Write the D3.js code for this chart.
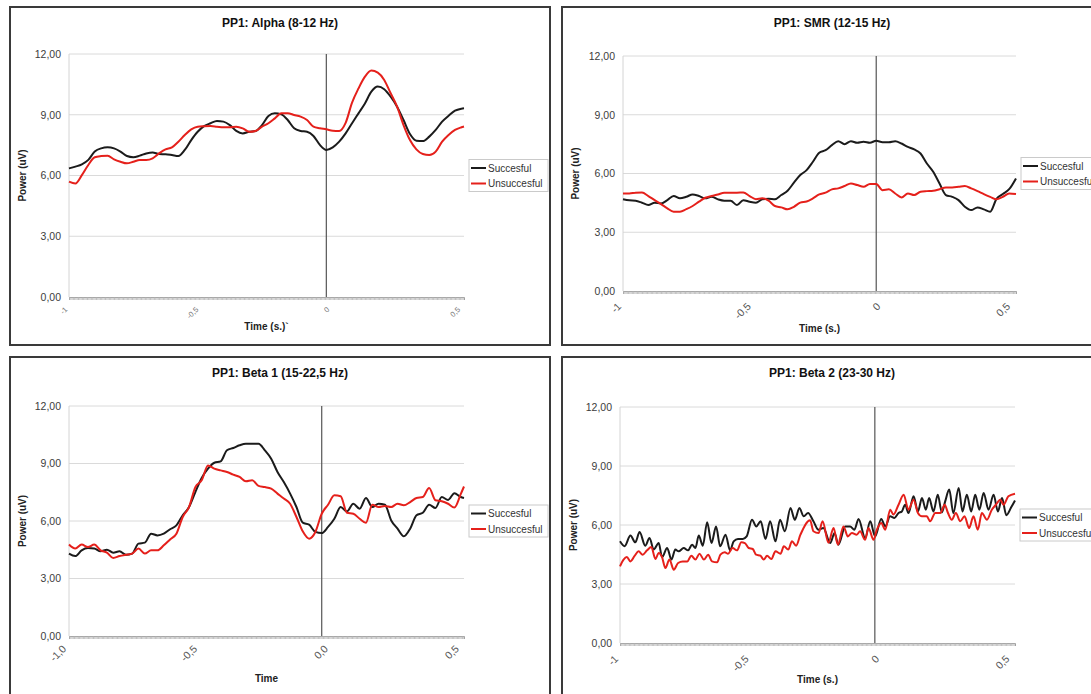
<!DOCTYPE html>
<html>
<head>
<meta charset="utf-8">
<script src="https://cdn.jsdelivr.net/npm/d3@7"></script>
<style>
body { margin: 0; background: #fff; }
svg { display: block; font-family: "Liberation Sans", Arial, sans-serif; }
</style>
</head>
<body>
<svg id="chart" width="1091" height="694"></svg>
<script>
// ---- data ----
const seriesNames = ["Succesful", "Unsuccesful"];
const yTicks = [0, 3, 6, 9, 12];
const xTicks = [-1, -0.5, 0, 0.5];
const xTickText = ["-1", "-0,5", "0", "0,5"];
const xTickTextBeta1 = ["-1,0", "-0,5", "0,0", "0,5"];

// sample times (s) used for the smooth panels
const gridTime = [-1, -0.975, -0.95, -0.925, -0.9, -0.875, -0.85, -0.825, -0.8, -0.775,
  -0.75, -0.725, -0.7, -0.675, -0.65, -0.625, -0.6, -0.575, -0.55, -0.525,
  -0.5, -0.475, -0.45, -0.425, -0.4, -0.375, -0.35, -0.325, -0.3, -0.275,
  -0.25, -0.225, -0.2, -0.175, -0.15, -0.125, -0.1, -0.075, -0.05, -0.025,
  0, 0.025, 0.05, 0.075, 0.1, 0.125, 0.15, 0.175, 0.2, 0.225,
  0.25, 0.275, 0.3, 0.325, 0.35, 0.375, 0.4, 0.425, 0.45, 0.475,
  0.5, 0.525];

const alphaTime = gridTime.concat([0.535]);
const alphaSucc = [6.35, 6.44, 6.55, 6.77, 7.18, 7.34, 7.39, 7.34, 7.18, 6.96,
  6.90, 6.98, 7.09, 7.14, 7.06, 7.05, 7.01, 6.96, 7.26, 7.75,
  8.16, 8.44, 8.58, 8.69, 8.66, 8.49, 8.20, 8.08, 8.16, 8.20,
  8.49, 8.94, 9.07, 9.02, 8.74, 8.33, 8.20, 8.16, 7.95, 7.51,
  7.26, 7.39, 7.67, 8.08, 8.58, 9.07, 9.56, 10.14, 10.39, 10.26,
  9.89, 9.40, 8.74, 8.05, 7.72, 7.70, 7.92, 8.25, 8.66, 8.95,
  9.20, 9.30, 9.32];
const alphaUnsucc = [5.70, 5.61, 6.02, 6.52, 6.90, 6.96, 6.98, 6.80, 6.68, 6.60,
  6.68, 6.77, 6.77, 6.85, 7.09, 7.29, 7.39, 7.67, 8.00, 8.28,
  8.41, 8.43, 8.44, 8.41, 8.38, 8.38, 8.41, 8.33, 8.16, 8.20,
  8.41, 8.58, 8.82, 9.07, 9.07, 8.99, 8.91, 8.74, 8.41, 8.33,
  8.28, 8.21, 8.20, 8.60, 9.60, 10.30, 10.88, 11.18, 11.08, 10.72,
  10.06, 9.40, 8.49, 7.75, 7.29, 7.06, 7.01, 7.18, 7.67, 8.00,
  8.25, 8.38, 8.42];

const smrTime = gridTime.concat([0.552]);
const smrSucc = [4.69, 4.63, 4.61, 4.51, 4.39, 4.51, 4.47, 4.64, 4.85, 4.73,
  4.81, 4.93, 4.85, 4.73, 4.81, 4.68, 4.61, 4.61, 4.39, 4.64,
  4.56, 4.51, 4.68, 4.71, 4.69, 4.90, 5.12, 5.53, 5.92, 6.17,
  6.60, 7.06, 7.19, 7.45, 7.65, 7.50, 7.65, 7.57, 7.62, 7.57,
  7.67, 7.60, 7.60, 7.65, 7.53, 7.36, 7.23, 7.02, 6.51, 6.09,
  5.49, 4.90, 4.81, 4.64, 4.30, 4.13, 4.27, 4.17, 4.05, 4.70,
  4.95, 5.20, 5.75];
const smrUnsucc = [4.98, 4.98, 5.02, 5.03, 4.85, 4.64, 4.44, 4.22, 4.05, 4.05,
  4.18, 4.34, 4.56, 4.76, 4.85, 4.93, 5.02, 5.02, 5.02, 5.03,
  4.85, 4.69, 4.73, 4.61, 4.34, 4.27, 4.17, 4.30, 4.51, 4.57,
  4.73, 4.93, 5.02, 5.19, 5.24, 5.36, 5.49, 5.41, 5.32, 5.46,
  5.46, 5.15, 5.19, 4.98, 4.78, 4.98, 4.90, 5.07, 5.10, 5.12,
  5.20, 5.29, 5.29, 5.32, 5.36, 5.24, 5.10, 4.95, 4.81, 4.68,
  4.81, 4.98, 4.95];

const beta1Time = gridTime.concat([0.55, 0.563]);
const beta1Succ = [4.30, 4.17, 4.47, 4.59, 4.56, 4.42, 4.50, 4.35, 4.42, 4.24,
  4.30, 4.82, 4.87, 5.34, 5.25, 5.34, 5.57, 5.77, 6.30, 6.73,
  7.51, 8.24, 8.73, 9.04, 9.11, 9.69, 9.81, 9.95, 10.03, 10.03,
  10.03, 9.69, 9.25, 8.56, 8.03, 7.43, 6.73, 5.91, 5.81, 5.43,
  5.37, 5.69, 6.12, 6.73, 6.50, 6.90, 6.64, 7.20, 6.73, 6.90,
  6.85, 6.03, 5.60, 5.20, 5.60, 6.30, 6.43, 6.85, 6.68, 7.25,
  7.10, 7.45, 7.25, 7.20];
const beta1Unsucc = [4.77, 4.56, 4.77, 4.64, 4.77, 4.47, 4.35, 4.07, 4.17, 4.24,
  4.30, 4.56, 4.30, 4.47, 4.47, 4.73, 5.04, 5.34, 6.21, 6.73,
  7.77, 8.12, 8.90, 8.73, 8.64, 8.56, 8.42, 8.30, 8.07, 8.12,
  7.83, 7.77, 7.69, 7.43, 7.17, 6.90, 6.21, 5.46, 5.08, 5.43,
  6.38, 6.85, 7.34, 7.29, 6.43, 6.38, 6.12, 5.91, 6.85, 6.73,
  6.78, 6.73, 6.90, 6.82, 6.99, 7.20, 7.25, 7.72, 7.08, 7.03,
  6.90, 6.70, 7.40, 7.80];

// beta 2 oscillates fast: peaks and troughs read one by one
const beta2SuccTime = [-1.000, -0.982, -0.959, -0.940, -0.923, -0.901, -0.884, -0.868, -0.848, -0.835,
  -0.815, -0.798, -0.783, -0.770, -0.750, -0.733, -0.717, -0.704, -0.691, -0.675,
  -0.658, -0.641, -0.623, -0.607, -0.586, -0.568, -0.554, -0.537, -0.518, -0.503,
  -0.482, -0.465, -0.448, -0.429, -0.411, -0.390, -0.372, -0.353, -0.331, -0.314,
  -0.296, -0.279, -0.262,
  -0.241, -0.221, -0.202, -0.175, -0.158, -0.143, -0.116, -0.097, -0.080, -0.064,
  -0.038, -0.018, 0.001, 0.025, 0.041, 0.060, 0.077, 0.093, 0.106, 0.119,
  0.132, 0.152, 0.169, 0.185, 0.200, 0.213, 0.230, 0.247, 0.263, 0.276,
  0.292, 0.308, 0.329, 0.344, 0.361, 0.378, 0.394, 0.410, 0.427, 0.446,
  0.466, 0.483, 0.499, 0.516, 0.535, 0.550];
const beta2Succ = [5.17, 4.92, 5.46, 5.12, 5.64, 4.95, 5.34, 4.75, 5.08, 4.37,
  4.83, 4.24, 4.75, 4.66, 4.83, 4.71, 5.00, 4.83, 5.46, 4.95,
  6.14, 5.08, 5.93, 4.92, 5.51, 4.71, 5.17, 5.29, 5.29, 5.42,
  6.27, 5.93, 6.19, 5.29, 6.19, 5.17, 6.27, 5.68, 6.86, 6.27,
  6.86, 6.44, 6.61,
  6.19, 5.76, 5.85, 5.08, 5.59, 5.00, 5.93, 5.93, 5.76, 6.31,
  5.34, 6.19, 5.42, 6.31, 5.93, 6.44, 6.36, 6.61, 6.69, 7.03,
  6.61, 7.46, 6.69, 7.37, 6.78, 7.37, 6.69, 7.54, 6.64, 7.20,
  7.80, 6.61, 7.88, 6.69, 7.54, 6.69, 7.54, 6.78, 7.63, 6.78,
  7.54, 6.69, 7.37, 6.50, 6.90, 7.25];
const beta2UnsuccTime = [-1.0, -0.986, -0.973, -0.959, -0.942, -0.927, -0.911, -0.894, -0.877, -0.861,
  -0.848, -0.835, -0.822, -0.806, -0.789, -0.772, -0.754, -0.736, -0.720, -0.704,
  -0.688, -0.671, -0.654, -0.639, -0.619, -0.606, -0.589, -0.576, -0.558, -0.541,
  -0.524, -0.510, -0.495, -0.479, -0.466, -0.449, -0.436, -0.423, -0.406, -0.390,
  -0.370, -0.357, -0.340, -0.325, -0.309, -0.292,
  -0.254, -0.241, -0.221, -0.205, -0.182, -0.162, -0.145, -0.123, -0.106, -0.090,
  -0.071, -0.058, -0.038, -0.025, -0.005, 0.008, 0.025, 0.041, 0.060, 0.073,
  0.093, 0.113, 0.132, 0.152, 0.169, 0.185, 0.204, 0.217, 0.237, 0.257,
  0.274, 0.287, 0.302, 0.318, 0.335, 0.352, 0.370, 0.387, 0.404, 0.420,
  0.440, 0.459, 0.475, 0.492, 0.505, 0.524, 0.550];
const beta2Unsucc = [3.90, 4.24, 4.37, 4.15, 4.44, 4.66, 4.49, 4.71, 4.88, 4.27,
  4.58, 4.37, 3.81, 4.24, 3.73, 4.07, 4.15, 4.15, 4.44, 4.24,
  4.54, 4.24, 4.49, 4.15, 4.10, 4.49, 4.61, 4.54, 4.83, 4.71,
  5.12, 5.08, 4.83, 4.78, 4.49, 4.44, 4.24, 4.44, 4.27, 4.66,
  4.54, 4.92, 4.75, 5.17, 4.95, 5.51,
  6.24, 5.68, 5.59, 6.19, 5.10, 5.85, 5.00, 5.93, 5.42, 5.59,
  5.51, 5.68, 5.25, 5.85, 5.25, 5.76, 6.10, 5.76, 6.78, 6.53,
  7.03, 7.54, 6.78, 7.29, 6.61, 6.44, 6.44, 6.19, 6.61, 6.61,
  7.03, 6.61, 6.27, 6.61, 6.19, 6.44, 5.85, 6.44, 5.76, 6.61,
  6.27, 6.78, 7.03, 7.29, 7.03, 7.46, 7.59];

// ---- layout ----
const colors = ["#1b1b1b", "#e5201b"];
const boxW = 540, boxH = 338;

const panels = [
  { title: "PP1: Alpha (8-12 Hz)", xTitle: "Time (s.)`", tickText: xTickText,
    box: [10, 7], plot: { l: 69, r: 464, t: 54, b: 297 }, xMax: 0.535,
    tickFont: 7.5, tickColor: "#777", labelDx: [3.5, 4.5], labelDy: 13,
    yTitleX: 26, xTitleY: 330,
    series: [[alphaTime, alphaSucc], [alphaTime, alphaUnsucc]] },
  { title: "PP1: SMR (12-15 Hz)", xTitle: "Time (s.)", tickText: xTickText,
    box: [562, 7], plot: { l: 623, r: 1016, t: 56, b: 291 }, xMax: 0.552,
    tickFont: 10.5, tickColor: "#555", labelDx: [5, 6], labelDy: 16,
    yTitleX: 579, xTitleY: 332,
    series: [[smrTime, smrSucc], [smrTime, smrUnsucc]] },
  { title: "PP1: Beta 1 (15-22,5 Hz)", xTitle: "Time", tickText: xTickTextBeta1,
    box: [10, 357], plot: { l: 69, r: 464, t: 406, b: 636 }, xMax: 0.563,
    tickFont: 10.5, tickColor: "#555", labelDx: [7, 9], labelDy: 13.5,
    yTitleX: 26, xTitleY: 682,
    series: [[beta1Time, beta1Succ], [beta1Time, beta1Unsucc]] },
  { title: "PP1: Beta 2 (23-30 Hz)", xTitle: "Time (s.)", tickText: xTickText,
    box: [562, 357], plot: { l: 620, r: 1015, t: 407, b: 643 }, xMax: 0.55,
    tickFont: 10.5, tickColor: "#555", labelDx: [5, 6], labelDy: 16.5,
    yTitleX: 577, xTitleY: 683,
    series: [[beta2SuccTime, beta2Succ], [beta2UnsuccTime, beta2Unsucc]] }
];

const svg = d3.select("#chart");
const fmt = d => d3.format(".2f")(d).replace(".", ",");

function drawPanel(p) {
  const g = svg.append("g");
  const P = p.plot;

  g.append("rect")
    .attr("x", p.box[0]).attr("y", p.box[1])
    .attr("width", boxW).attr("height", boxH)
    .attr("fill", "#fff").attr("stroke", "#3a3a3a").attr("stroke-width", 2);

  const x = d3.scaleLinear().domain([-1, p.xMax]).range([P.l, P.r]);
  const y = d3.scaleLinear().domain([0, 12]).range([P.b, P.t]);

  // horizontal grid
  g.selectAll(".grid").data(yTicks.filter(v => v > 0)).enter().append("line")
    .attr("x1", P.l).attr("x2", P.r)
    .attr("y1", d => y(d)).attr("y2", d => y(d))
    .attr("stroke", "#dadada").attr("stroke-width", 1);

  g.append("line")
    .attr("x1", P.l).attr("x2", P.l).attr("y1", y(0)).attr("y2", y(12))
    .attr("stroke", "#d4d4d4");

  // y axis labels
  const yAxis = g.append("g").attr("transform", `translate(${P.l},0)`)
    .call(d3.axisLeft(y).tickValues(yTicks).tickFormat(fmt).tickSize(0).tickPadding(8));
  yAxis.select(".domain").remove();
  yAxis.selectAll("text").attr("font-size", 10.5).attr("fill", "#3c3c3c")
    .attr("font-family", "Liberation Sans, Arial, sans-serif");

  // dense minor ticks along the time axis
  const xAxis = g.append("g").attr("transform", `translate(0,${y(0)})`)
    .call(d3.axisBottom(x).tickValues(d3.range(-1, p.xMax, 0.005)).tickSize(3).tickFormat(""));
  xAxis.select(".domain").attr("stroke", "#a0a0a0");
  xAxis.selectAll(".tick line").attr("stroke", "#b0b0b0").attr("stroke-width", 0.8);

  // rotated tick labels
  g.selectAll(".xlab").data(xTicks).enter().append("text")
    .attr("transform", d => `translate(${x(d) + p.labelDx[0] + p.labelDx[1] * d},${y(0) + p.labelDy}) rotate(-45)`)
    .attr("text-anchor", "end")
    .attr("font-size", p.tickFont).attr("fill", p.tickColor)
    .text((d, i) => p.tickText[i]);

  // marker at t = 0
  g.append("line")
    .attr("x1", x(0)).attr("x2", x(0)).attr("y1", y(0)).attr("y2", y(12))
    .attr("stroke", "#555").attr("stroke-width", 1.2);

  const line = d3.line().curve(d3.curveMonotoneX)
    .x(d => x(d[0])).y(d => y(d[1]));

  p.series.forEach((s, i) => {
    const pts = s[0].map((t, k) => [t, s[1][k]]);
    g.append("path").datum(pts)
      .attr("d", line)
      .attr("fill", "none")
      .attr("stroke", colors[i])
      .attr("stroke-width", 2)
      .attr("stroke-linejoin", "round");
  });

  // titles
  g.append("text")
    .attr("x", p.box[0] + boxW / 2).attr("y", p.box[1] + 20)
    .attr("text-anchor", "middle").attr("font-size", 12).attr("font-weight", "bold")
    .attr("fill", "#111").text(p.title);

  g.append("text")
    .attr("x", (P.l + P.r) / 2).attr("y", p.xTitleY)
    .attr("text-anchor", "middle").attr("font-size", 10).attr("font-weight", "bold")
    .attr("fill", "#222").text(p.xTitle);

  g.append("text")
    .attr("transform", `translate(${p.yTitleX},${(P.t + P.b) / 2}) rotate(-90)`)
    .attr("text-anchor", "middle").attr("font-size", 10).attr("font-weight", "bold")
    .attr("fill", "#222").text("Power (uV)");

  // legend
  const lg = g.append("g")
    .attr("transform", `translate(${P.r + 5},${(P.t + P.b) / 2 - 16})`);
  lg.append("rect").attr("width", 79).attr("height", 32)
    .attr("fill", "#fff").attr("stroke", "#cacaca");
  seriesNames.forEach((name, i) => {
    const yy = 8.5 + i * 15.5;
    lg.append("line").attr("x1", 2).attr("x2", 17).attr("y1", yy).attr("y2", yy)
      .attr("stroke", colors[i]).attr("stroke-width", 2);
    lg.append("text").attr("x", 19).attr("y", yy + 3.5)
      .attr("font-size", 10).attr("fill", "#333").text(name);
  });
}

panels.forEach(drawPanel);
</script>
</body>
</html>
